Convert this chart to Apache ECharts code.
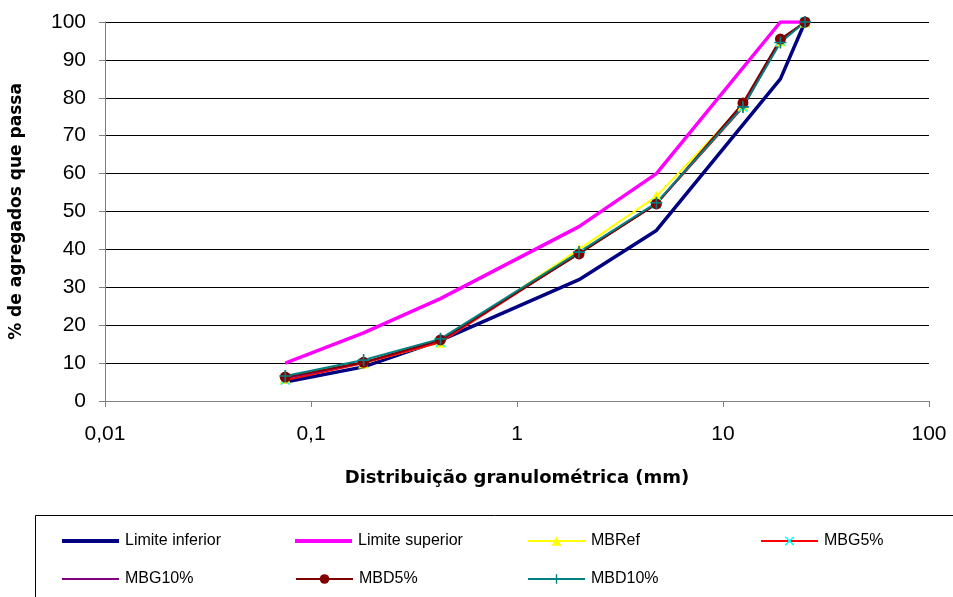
<!DOCTYPE html>
<html>
<head>
<meta charset="utf-8">
<script src="https://cdn.jsdelivr.net/npm/echarts@6/dist/echarts.min.js"></script>
<style>
  html, body { margin: 0; padding: 0; background: #fff; }
  #chart { width: 953px; height: 597px; }
</style>
</head>
<body>
<div id="chart"></div>
<script>
// Sieve sizes (mm) for the mixtures and for the grading envelope
const sieveSizes = [0.075, 0.18, 0.425, 2.0, 4.75, 12.5, 19, 25];
const limitSizes = [0.075, 0.18, 0.425, 2.0, 4.75, 19, 25];

// Grading envelope (% passing)
const limiteInferior = [5, 9, 16, 32, 45, 85, 100];
const limiteSuperior = [10, 18, 27, 46, 60, 100, 100];

// Mixtures (% passing)
const mbRef  = [6.0, 10.0, 15.5, 40.0, 54.0, 78.0, 95.0, 100];
const mbG5   = [5.5, 10.0, 15.5, 39.0, 52.0, 77.5, 95.0, 100];
const mbG10  = [6.0, 10.2, 16.0, 39.0, 52.0, 78.0, 95.2, 100];
const mbD5   = [6.3, 10.2, 16.1, 38.8, 52.0, 78.6, 95.5, 100];
const mbD10  = [6.6, 10.8, 16.4, 39.3, 52.3, 77.6, 94.6, 100];

// Axis ticks
const xTicks = [0.01, 0.1, 1, 10, 100];
const yTicks = [0, 10, 20, 30, 40, 50, 60, 70, 80, 90, 100];

const pairs = (xs, ys) => xs.map((x, i) => [x, ys[i]]);

const crossSymbol = 'path://M0,1L1,0L5,4L9,0L10,1L6,5L10,9L9,10L5,6L1,10L0,9L4,5Z';
const plusSymbol  = 'path://M4.3,0H5.7V4.3H10V5.7H5.7V10H4.3V5.7H0V4.3H4.3Z';

const FONT = 'Liberation Sans';

const seriesDefs = [
  { name: 'Limite inferior', data: pairs(limitSizes, limiteInferior), color: '#000080', width: 3.5, symbol: 'none' },
  { name: 'Limite superior', data: pairs(limitSizes, limiteSuperior), color: '#FF00FF', width: 3.5, symbol: 'none' },
  { name: 'MBRef',  data: pairs(sieveSizes, mbRef),  color: '#FFFF00', width: 2, symbol: 'triangle', size: 11, mcolor: '#FFFF00' },
  { name: 'MBG5%',  data: pairs(sieveSizes, mbG5),   color: '#FF0000', width: 2, symbol: crossSymbol, size: 10, mcolor: '#00FFFF' },
  { name: 'MBG10%', data: pairs(sieveSizes, mbG10),  color: '#800080', width: 2, symbol: 'none' },
  { name: 'MBD5%',  data: pairs(sieveSizes, mbD5),   color: '#800000', width: 2, symbol: 'circle', size: 11, mcolor: '#800000' },
  { name: 'MBD10%', data: pairs(sieveSizes, mbD10),  color: '#008080', width: 2, symbol: plusSymbol, size: 12, mcolor: '#008080' }
];

const series = seriesDefs.map(d => ({
  name: d.name,
  type: 'line',
  data: d.data,
  symbol: d.symbol,
  symbolSize: d.size || 0,
  showSymbol: d.symbol !== 'none',
  lineStyle: { color: d.color, width: d.width },
  itemStyle: { color: d.mcolor || d.color },
  color: d.color,
  emphasis: { disabled: true },
  animation: false,
  z: 2
}));

// Legend laid out in a 4-column grid inside a framed box; rows centred at these y values
const legendCols = [62, 295, 527, 760, 62, 295, 527];
const legendRows = [540, 540, 540, 540, 578, 578, 578];
const legends = seriesDefs.map((d, i) => {
  const plain = d.symbol === 'none';
  const h = plain ? (d.width >= 3 ? 4 : 2) : 12;
  return {
    data: [plain ? { name: d.name, icon: 'rect' } : d.name],
    left: legendCols[i],
    top: legendRows[i] - 7,
    itemWidth: 57,
    itemHeight: h,
    itemGap: 0,
    selectedMode: false,
    lineStyle: { width: 2 },
    textStyle: { fontFamily: FONT, fontSize: 16, color: '#000', padding: [0, 0, 0, 1] },
    padding: 0
  };
});

const fmtNum = v => {
  const n = Number(Number(v).toPrecision(6));
  return String(n).replace('.', ',');
};

const option = {
  backgroundColor: '#fff',
  animation: false,
  grid: { left: 102, right: 24, top: 22, bottom: 196, containLabel: false },
  xAxis: {
    type: 'log',
    logBase: 10,
    min: xTicks[0],
    max: xTicks[xTicks.length - 1],
    name: 'Distribuição granulométrica (mm)',
    nameLocation: 'middle',
    nameGap: 68,
    nameTextStyle: { fontFamily: 'DejaVu Sans', fontWeight: 'bold', fontSize: 18, color: '#000' },
    axisLine: { lineStyle: { color: '#808080', width: 1 } },
    axisTick: { show: true, inside: false, length: 6, lineStyle: { color: '#808080' } },
    minorTick: { show: false },
    splitLine: { show: false },
    axisLabel: {
      fontFamily: FONT, fontSize: 21, color: '#000', margin: 23,
      formatter: fmtNum
    }
  },
  yAxis: {
    type: 'value',
    min: yTicks[0],
    max: yTicks[yTicks.length - 1],
    interval: 10,
    name: '% de agregados que passa',
    nameLocation: 'middle',
    nameGap: 80,
    nameRotate: 90,
    nameTextStyle: { fontFamily: 'DejaVu Sans', fontWeight: 'bold', fontSize: 17, color: '#000' },
    axisLine: { show: true, lineStyle: { color: '#808080', width: 1 } },
    axisTick: { show: true, inside: false, length: 6, lineStyle: { color: '#808080' } },
    splitLine: { show: true, lineStyle: { color: '#000', width: 1 } },
    axisLabel: { fontFamily: FONT, fontSize: 21, color: '#000', margin: 19 }
  },
  legend: legends,
  graphic: [{
    type: 'rect',
    left: 33, top: 513,
    shape: { width: 1000, height: 200 },
    style: { fill: 'none', stroke: '#000', lineWidth: 1 },
    z: -1
  }],
  series: series
};

const chart = echarts.init(document.getElementById('chart'), null, { renderer: 'canvas' });
chart.setOption(option);
</script>
</body>
</html>
